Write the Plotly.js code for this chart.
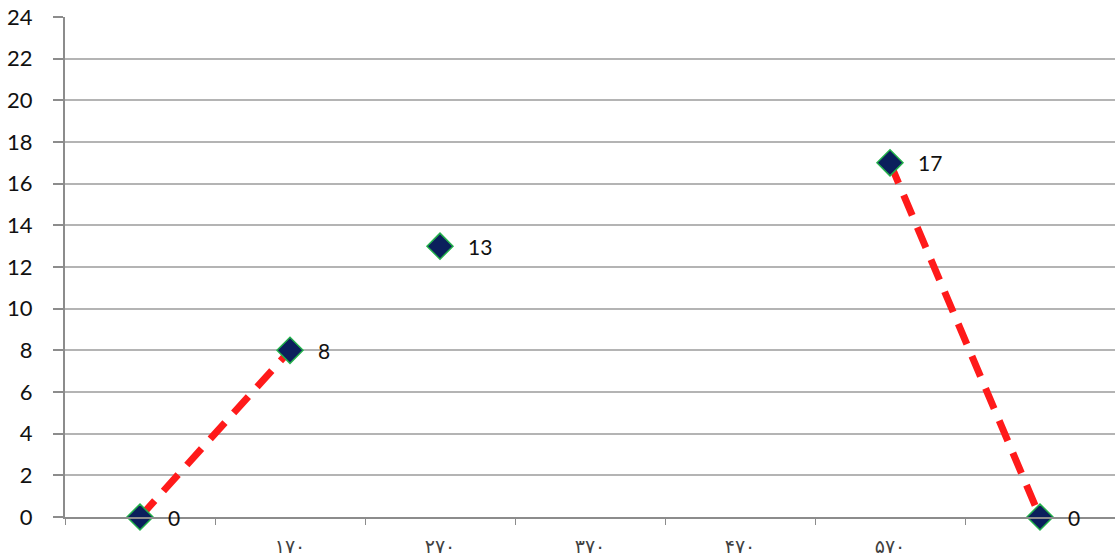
<!DOCTYPE html>
<html>
<head>
<meta charset="utf-8">
<script src="https://cdn.plot.ly/plotly-3.0.1.min.js"></script>
<style>html,body{margin:0;padding:0;background:#fff;}#chart{width:1115px;height:559px;}</style>
</head>
<body>
<div id="chart"></div>
<script>
// Data
const xIndex = [0, 1, 2, 3, 4, 5, 6];
const xLabels = ['', '۱۷۰', '۲۷۰', '۳۷۰', '۴۷۰', '۵۷۰', ''];
const pointX = [0, 1, 2, 5, 6];
const pointY = [0, 8, 13, 17, 0];
const lineAX = [0, 1];
const lineAY = [0, 8];
const lineBX = [5, 6];
const lineBY = [17, 0];
const yTicks = [0, 2, 4, 6, 8, 10, 12, 14, 16, 18, 20, 22, 24];

const lineStyle = {color: '#ff1a1a', width: 7, dash: '22px,13px'};
const traces = [
  {x: lineAX, y: lineAY, mode: 'lines', line: lineStyle, hoverinfo: 'skip', showlegend: false, cliponaxis: false},
  {x: lineBX, y: lineBY, mode: 'lines', line: lineStyle, hoverinfo: 'skip', showlegend: false, cliponaxis: false},
  {x: pointX, y: pointY, mode: 'markers', showlegend: false, cliponaxis: false,
   marker: {symbol: 'diamond', size: 20, color: '#0b1f5c', line: {color: '#22b04a', width: 1.5}}}
];

const annotations = pointX.map((x, i) => ({
  x: x, y: pointY[i], xref: 'x', yref: 'y', text: String(pointY[i]),
  showarrow: false, xanchor: 'left', yanchor: 'middle', xshift: 26,
  font: {family: 'Lato, "Open Sans", sans-serif', size: 21, color: '#111'}
}));

const layout = {
  width: 1115, height: 559,
  margin: {l: 65, r: 0, t: 17, b: 42},
  paper_bgcolor: '#fff', plot_bgcolor: '#fff',
  showlegend: false,
  xaxis: {
    type: 'linear', range: [-0.5, 6.5],
    tickmode: 'array', tickvals: xIndex, ticktext: xLabels,
    ticks: '', showgrid: false, zeroline: false,
    showline: true, linecolor: '#8c8c8c', linewidth: 2,
    ticklabelstandoff: 11,
    tickfont: {family: '"Noto Sans", "DejaVu Sans", sans-serif', size: 19, color: '#404040'},
    minor: {tick0: 0.5, dtick: 1, ticks: 'outside', ticklen: 6, tickcolor: '#8c8c8c', tickwidth: 1, showgrid: false}
  },
  yaxis: {
    range: [0, 24], tickmode: 'array', tickvals: yTicks,
    ticks: 'outside', ticklen: 10, tickcolor: '#8c8c8c', tickwidth: 2,
    showgrid: true, gridcolor: '#b4b4b4', gridwidth: 2,
    zeroline: false, showline: true, linecolor: '#8c8c8c', linewidth: 2,
    ticklabelstandoff: 16,
    tickfont: {family: 'Lato, "Open Sans", sans-serif', size: 22, color: '#111'}
  },
  annotations: annotations
};

Plotly.newPlot('chart', traces, layout, {displayModeBar: false, staticPlot: true});
</script>
</body>
</html>
